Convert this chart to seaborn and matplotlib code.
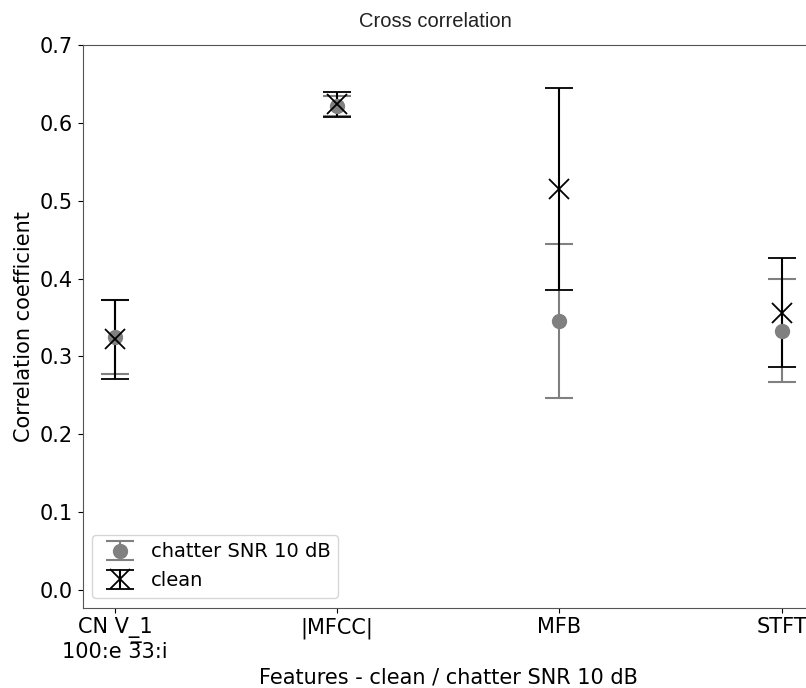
import matplotlib
matplotlib.use("Agg")
import matplotlib.pyplot as plt
import seaborn as sns
import pandas as pd

# values
features = ["CN V_1\n100:e 3\u03053:i", "|MFCC|", "MFB", "STFT"]
clean_mean = [0.322, 0.624, 0.515, 0.356]
clean_std = [0.051, 0.016, 0.130, 0.070]
noisy_mean = [0.325, 0.622, 0.346, 0.333]
noisy_std = [0.047, 0.013, 0.099, 0.066]

df = pd.DataFrame({
    "feature": features,
    "clean": clean_mean, "clean_sd": clean_std,
    "noisy": noisy_mean, "noisy_sd": noisy_std,
})

sns.set_style("ticks")
plt.rcParams["font.family"] = ["DejaVu Sans"]
plt.rcParams.update({"text.color": "black", "axes.labelcolor": "black",
                     "xtick.color": "black", "ytick.color": "black"})

fig = plt.figure(figsize=(8.06, 6.88), dpi=100)
# axes run past the right edge, like the cropped original
ax = fig.add_axes([82.7 / 806, (688 - 607.7) / 688, (814 - 82.7) / 806, (607.7 - 45) / 688])

ax.errorbar(df["feature"], df["noisy"], yerr=df["noisy_sd"], fmt="o", color="grey",
            markersize=10, capsize=10, elinewidth=1.5, capthick=1.5,
            label="chatter SNR 10 dB")
ax.errorbar(df["feature"], df["clean"], yerr=df["clean_sd"], fmt="x", color="black",
            markersize=14, capsize=10, elinewidth=1.5, capthick=1.5, mew=1.3,
            label="clean")

ax.set_xlim(-0.145, 3.145)
ax.set_ylim(-0.0227, 0.7)
ax.set_yticks([0.0, 0.1, 0.2, 0.3, 0.4, 0.5, 0.6, 0.7])
ax.tick_params(labelsize=15)
for s in ax.spines.values():
    s.set_color("#555555")

ax.set_title("Cross correlation", fontsize=14.5, color="#222222", pad=13,
             x=(435 - 82.7) / (814 - 82.7),
             family=["Liberation Sans", "DejaVu Sans"])
ax.set_ylabel("Correlation coefficient", fontsize=15)
ax.set_xlabel("Features - clean / chatter SNR 10 dB", fontsize=15)
ax.legend(loc="lower left", fontsize=14, handletextpad=0.6)

fig.savefig("out.png", dpi=100)
